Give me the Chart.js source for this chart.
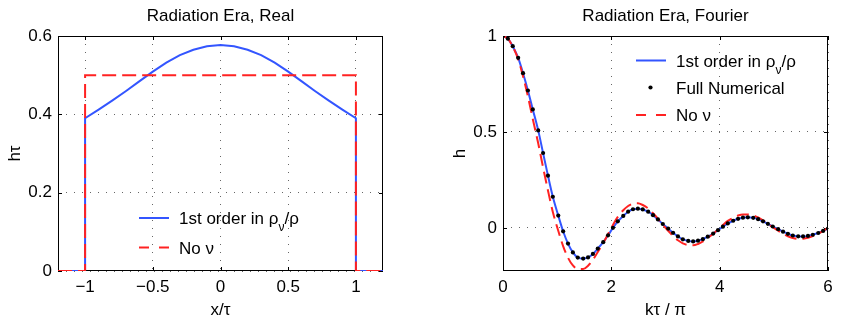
<!DOCTYPE html>
<html>
<head>
<meta charset="utf-8">
<script src="https://cdn.jsdelivr.net/npm/chart.js@4.4.1/dist/chart.umd.min.js"></script>
<style>
  body { margin: 0; background: #fff; width: 845px; height: 320px; position: relative; overflow: hidden; }
  canvas { position: absolute; top: 0; }
</style>
</head>
<body>
<canvas id="realChart" width="420" height="320" style="left:0"></canvas>
<canvas id="fourierChart" width="425" height="320" style="left:420px"></canvas>
<script>
// ---- left panel: real space ----
const realFirstOrderX = [-1.2, -1, -1, -0.9, -0.8, -0.7, -0.6, -0.5, -0.4, -0.3, -0.2, -0.1, 0,
    0.1, 0.2, 0.3, 0.4, 0.5, 0.6, 0.7, 0.8, 0.9, 1, 1, 1.2];
const realFirstOrderY = [0, 0, 0.390, 0.412, 0.435, 0.459, 0.484, 0.509, 0.532, 0.551, 0.565, 0.574, 0.577,
    0.574, 0.565, 0.551, 0.532, 0.509, 0.484, 0.459, 0.435, 0.412, 0.390, 0, 0];
const realNoNuX = [-1.2, -1, -1, 1, 1, 1.2];
const realNoNuY = [0, 0, 0.5, 0.5, 0, 0];
const realXTicks = [-1, -0.5, 0, 0.5, 1];
const realXTickLabels = ["\u22121", "\u22120.5", "0", "0.5", "1"];
const realYTicks = [0, 0.2, 0.4, 0.6];
const realYTickLabels = ["0", "0.2", "0.4", "0.6"];

// ---- right panel: Fourier space ----
const fourierK = [
    0, 0.09, 0.18, 0.28, 0.37, 0.46, 0.55, 0.65, 0.74, 0.83, 0.92,
    1.02, 1.11, 1.2, 1.29, 1.38, 1.48, 1.57, 1.66, 1.75, 1.85, 1.94,
    2.03, 2.12, 2.22, 2.31, 2.4, 2.49, 2.58, 2.68, 2.77, 2.86, 2.95,
    3.05, 3.14, 3.23, 3.32, 3.42, 3.51, 3.6, 3.69, 3.78, 3.88, 3.97,
    4.06, 4.15, 4.25, 4.34, 4.43, 4.52, 4.62, 4.71, 4.8, 4.89, 4.98,
    5.08, 5.17, 5.26, 5.35, 5.45, 5.54, 5.63, 5.72, 5.82, 5.91, 6];
const fourierFirstOrder = [
    1.000, 0.986, 0.947, 0.886, 0.806, 0.716, 0.617, 0.508, 0.390, 0.272, 0.162,
    0.064, -0.018, -0.082, -0.128, -0.155, -0.160, -0.154, -0.136, -0.108, -0.075, -0.039,
    0.000, 0.034, 0.062, 0.084, 0.097, 0.100, 0.096, 0.084, 0.066, 0.044, 0.020,
    -0.004, -0.026, -0.045, -0.060, -0.068, -0.071, -0.067, -0.059, -0.046, -0.030, -0.012,
    0.006, 0.023, 0.037, 0.047, 0.053, 0.055, 0.052, 0.045, 0.034, 0.021, 0.007,
    -0.007, -0.020, -0.031, -0.040, -0.044, -0.045, -0.042, -0.036, -0.027, -0.016, -0.004];
const fourierFullNumerical = [
    1.000, 0.986, 0.947, 0.886, 0.806, 0.716, 0.617, 0.508, 0.390, 0.272, 0.162,
    0.064, -0.018, -0.082, -0.128, -0.155, -0.160, -0.154, -0.136, -0.108, -0.075, -0.039,
    0.000, 0.034, 0.062, 0.084, 0.097, 0.100, 0.096, 0.084, 0.066, 0.044, 0.020,
    -0.004, -0.026, -0.045, -0.060, -0.068, -0.071, -0.067, -0.059, -0.046, -0.030, -0.012,
    0.006, 0.023, 0.037, 0.047, 0.053, 0.055, 0.052, 0.045, 0.034, 0.021, 0.007,
    -0.007, -0.020, -0.031, -0.040, -0.044, -0.045, -0.042, -0.036, -0.027, -0.016, -0.004];
const fourierNoNu = [
    1.000, 0.986, 0.945, 0.879, 0.790, 0.685, 0.567, 0.441, 0.315, 0.195, 0.083,
    -0.015, -0.095, -0.156, -0.196, -0.215, -0.215, -0.198, -0.167, -0.126, -0.080, -0.032,
    0.015, 0.057, 0.092, 0.114, 0.126, 0.128, 0.119, 0.101, 0.076, 0.048, 0.016,
    -0.015, -0.043, -0.065, -0.081, -0.090, -0.091, -0.084, -0.071, -0.053, -0.031, -0.008,
    0.015, 0.036, 0.052, 0.064, 0.070, 0.070, 0.065, 0.054, 0.039, 0.022, 0.003,
    -0.015, -0.031, -0.044, -0.053, -0.058, -0.057, -0.052, -0.043, -0.030, -0.016, 0.000];
const fourierXTicks = [0, 2, 4, 6];
const fourierXTickLabels = ["0", "2", "4", "6"];
const fourierYTicks = [0, 0.5, 1];
const fourierYTickLabels = ["0", "0.5", "1"];

const blueColor = "#3355ff";
const redColor = "#ff2222";
const fontFamily = "'Liberation Sans', Arial, Helvetica, sans-serif";
const fontSize = 17;

Chart.defaults.font.family = fontFamily;
Chart.defaults.font.size = fontSize;
Chart.defaults.color = "#000";

function toPoints(xs, ys) {
    return xs.map((x, i) => ({ x: x, y: ys[i] }));
}

// axes box, inward tick marks, title and legend
const matlabPlugin = {
    id: "matlab",
    beforeDatasetsDraw(chart, args, opts) {
        const { ctx, chartArea: a, scales } = chart;
        ctx.save();
        ctx.strokeStyle = "#000";
        ctx.lineWidth = 1;
        ctx.setLineDash([]);
        ctx.strokeRect(Math.round(a.left) + 0.5, Math.round(a.top) + 0.5,
            Math.round(a.right - a.left) - 1, Math.round(a.bottom - a.top) - 1);
        ctx.beginPath();
        for (const t of scales.x.ticks) {
            const px = Math.round(scales.x.getPixelForValue(t.value)) + 0.5;
            ctx.moveTo(px, a.bottom); ctx.lineTo(px, a.bottom - 4);
            ctx.moveTo(px, a.top); ctx.lineTo(px, a.top + 4);
        }
        for (const t of scales.y.ticks) {
            const py = Math.round(scales.y.getPixelForValue(t.value)) + 0.5;
            ctx.moveTo(a.left, py); ctx.lineTo(a.left + 4, py);
            ctx.moveTo(a.right, py); ctx.lineTo(a.right - 4, py);
        }
        ctx.stroke();
        ctx.restore();
    },
    afterDraw(chart, args, opts) {
        const { ctx, chartArea: a } = chart;
        ctx.save();
        ctx.fillStyle = "#000";
        ctx.font = fontSize + "px " + fontFamily;
        ctx.textAlign = "center";
        ctx.textBaseline = "middle";
        ctx.fillText(opts.title, (a.left + a.right) / 2, 16);

        // legend
        ctx.textAlign = "left";
        ctx.textBaseline = "alphabetic";
        opts.legend.forEach((e) => {
            const x = opts.legendX, cy = e.y;
            if (e.kind === "dot") {
                ctx.fillStyle = "#000";
                ctx.beginPath();
                ctx.arc(x + 14.5, cy, 2.1, 0, Math.PI * 2);
                ctx.fill();
            } else {
                ctx.strokeStyle = e.color;
                ctx.lineWidth = 2;
                ctx.setLineDash(e.dash || []);
                ctx.beginPath();
                ctx.moveTo(x, cy);
                ctx.lineTo(x + 30, cy);
                ctx.stroke();
                ctx.setLineDash([]);
            }
            ctx.fillStyle = "#000";
            let tx = x + 40;
            for (const p of e.parts) {
                if (p.sub) {
                    ctx.font = "12px " + fontFamily;
                    ctx.fillText(p.t, tx, cy + 13);
                } else {
                    ctx.font = fontSize + "px " + fontFamily;
                    ctx.fillText(p.t, tx, cy + 6);
                }
                tx += ctx.measureText(p.t).width;
            }
        });
        ctx.restore();
    }
};

function makeAxis(opt) {
    return {
        type: "linear",
        min: opt.min,
        max: opt.max,
        afterFit(scale) {
            if (scale.isHorizontal()) scale.height = opt.size;
            else scale.width = opt.size;
        },
        afterBuildTicks(scale) {
            scale.ticks = opt.ticks.map((v) => ({ value: v }));
        },
        ticks: {
            autoSkip: false,
            maxRotation: 0,
            padding: opt.tickPad,
            color: "#000",
            font: { size: fontSize },
            callback: (v, i) => opt.labels[i]
        },
        grid: {
            color: "#666",
            lineWidth: 1,
            drawTicks: false
        },
        border: { display: false, dash: [1, 7] },
        title: {
            display: true,
            text: opt.title,
            color: "#000",
            font: { size: fontSize },
            padding: opt.titlePad
        }
    };
}

const firstOrderLabel = [{ t: "1st order in \u03c1" }, { t: "\u03bd", sub: true }, { t: "/\u03c1" }];
const noNuLabel = [{ t: "No \u03bd" }];

// Chart.js paints lower "order" on top: blue under red, dots on top
new Chart(document.getElementById("realChart"), {
    type: "scatter",
    data: {
        datasets: [{
            data: toPoints(realFirstOrderX, realFirstOrderY),
            showLine: true,
            borderColor: blueColor,
            borderWidth: 2,
            pointRadius: 0,
            tension: 0,
            order: 2
        }, {
            data: toPoints(realNoNuX, realNoNuY),
            showLine: true,
            borderColor: redColor,
            borderWidth: 2,
            borderDash: [14, 6],
            pointRadius: 0,
            tension: 0,
            order: 1
        }]
    },
    options: {
        responsive: false,
        animation: false,
        layout: { padding: { top: 36, right: 37, left: 0, bottom: 0 } },
        plugins: {
            legend: { display: false },
            tooltip: { enabled: false },
            matlab: {
                title: "Radiation Era, Real",
                legendX: 139,
                legend: [
                    { kind: "line", color: blueColor, y: 218, parts: firstOrderLabel },
                    { kind: "line", color: redColor, dash: [10, 10], y: 247.5, parts: noNuLabel }
                ]
            }
        },
        scales: {
            x: makeAxis({ min: -1.2, max: 1.2, ticks: realXTicks, labels: realXTickLabels, size: 49,
                tickPad: 6, title: "x/\u03c4", titlePad: { top: 0, bottom: -1 } }),
            y: makeAxis({ min: 0, max: 0.6, ticks: realYTicks, labels: realYTickLabels, size: 58,
                tickPad: 6, title: "h\u03c4", titlePad: { top: 5, bottom: 0 } })
        }
    },
    plugins: [matlabPlugin]
});

new Chart(document.getElementById("fourierChart"), {
    type: "scatter",
    data: {
        datasets: [{
            data: toPoints(fourierK, fourierFirstOrder),
            showLine: true,
            borderColor: blueColor,
            borderWidth: 2,
            pointRadius: 0,
            cubicInterpolationMode: "monotone",
            order: 3
        }, {
            data: toPoints(fourierK, fourierFullNumerical),
            showLine: false,
            pointRadius: 2.1,
            pointBackgroundColor: "#000",
            pointBorderWidth: 0,
            order: 1
        }, {
            data: toPoints(fourierK, fourierNoNu),
            showLine: true,
            borderColor: redColor,
            borderWidth: 2,
            borderDash: [12, 6],
            pointRadius: 0,
            cubicInterpolationMode: "monotone",
            order: 2
        }]
    },
    options: {
        responsive: false,
        animation: false,
        layout: { padding: { top: 36, right: 17, left: 0, bottom: 0 } },
        plugins: {
            legend: { display: false },
            tooltip: { enabled: false },
            matlab: {
                title: "Radiation Era, Fourier",
                legendX: 216,
                legend: [
                    { kind: "line", color: blueColor, y: 60.5, parts: firstOrderLabel },
                    { kind: "dot", y: 87.5, parts: [{ t: "Full Numerical" }] },
                    { kind: "line", color: redColor, dash: [10, 10], y: 115, parts: noNuLabel }
                ]
            }
        },
        scales: {
            x: makeAxis({ min: 0, max: 6, ticks: fourierXTicks, labels: fourierXTickLabels, size: 49,
                tickPad: 6, title: "k\u03c4 / \u03c0", titlePad: { top: 0, bottom: -1 } }),
            y: makeAxis({ min: -0.225, max: 1, ticks: fourierYTicks, labels: fourierYTickLabels, size: 83,
                tickPad: 6, title: "h", titlePad: { top: 30, bottom: 0 } })
        }
    },
    plugins: [matlabPlugin]
});
</script>
</body>
</html>
